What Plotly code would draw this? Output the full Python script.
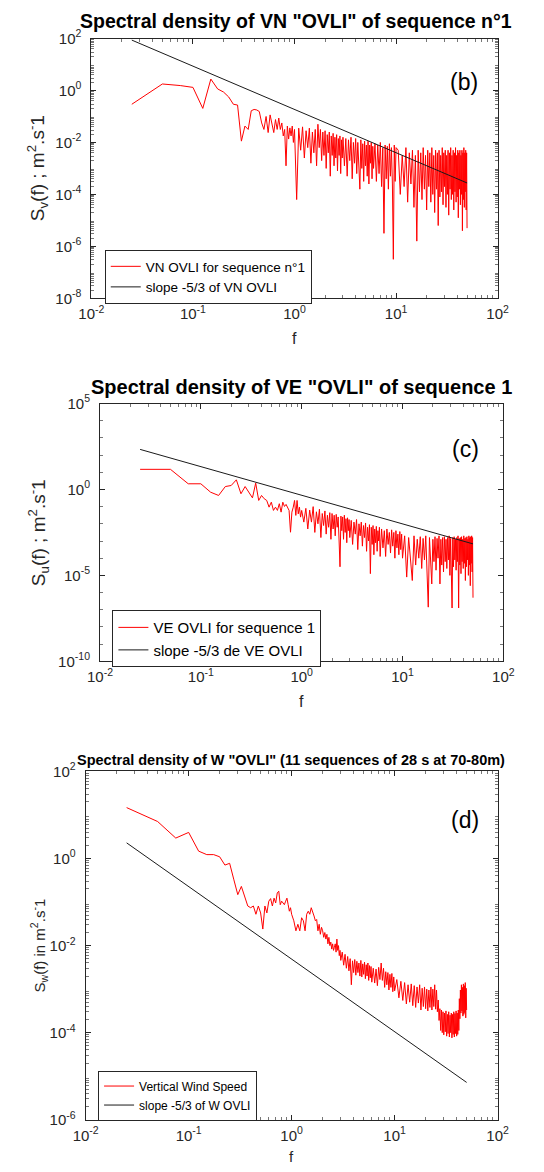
import numpy as np
import plotly.graph_objects as go

# ---------------- data ----------------
freq = [0.025, 0.05, 0.075, 0.1, 0.125, 0.15, 0.175, 0.2, 0.225, 0.25,
        0.275, 0.3, 0.325, 0.35, 0.375, 0.4, 0.425, 0.45, 0.475, 0.5,
        0.525, 0.55, 0.575, 0.6, 0.625, 0.65, 0.675, 0.7, 0.725, 0.75,
        0.775, 0.8, 0.825, 0.85, 0.875, 0.9, 0.925, 0.95, 0.975, 1.0,
        1.05, 1.1, 1.15, 1.2, 1.25, 1.3, 1.35, 1.4, 1.45, 1.5,
        1.55, 1.6, 1.65, 1.7, 1.75, 1.8, 1.85, 1.9, 1.95, 2.0,
        2.05, 2.1, 2.15, 2.2, 2.25, 2.3, 2.35, 2.4, 2.45, 2.5,
        2.55, 2.6, 2.65, 2.7, 2.75, 2.8, 2.85, 2.9, 2.95, 3.0,
        3.1, 3.2, 3.3, 3.4, 3.5, 3.6, 3.7, 3.8, 3.9, 4.0,
        4.1, 4.2, 4.3, 4.4, 4.5, 4.6, 4.7, 4.8, 4.9, 5.0,
        5.1, 5.2, 5.3, 5.4, 5.5, 5.6, 5.7, 5.8, 5.9, 6.0,
        6.2, 6.4, 6.6, 6.8, 7.0, 7.2, 7.4, 7.6, 7.8, 8.0,
        8.2, 8.4, 8.6, 8.8, 9.0, 9.2, 9.4, 9.6, 9.8, 10.0,
        10.5, 11.0, 11.5, 12.0, 12.5, 13.0, 13.5, 14.0, 14.5, 15.0,
        15.5, 16.0, 16.5, 17.0, 17.5, 18.0, 18.5, 19.0, 19.5, 20.0,
        20.5, 21.0, 21.5, 22.0, 22.5, 23.0, 23.5, 24.0, 24.5, 25.0,
        25.5, 26.0, 26.5, 27.0, 27.5, 28.0, 28.5, 29.0, 29.5, 30.0,
        30.5, 31.0, 31.5, 32.0, 32.5, 33.0, 33.5, 34.0, 34.5, 35.0,
        35.5, 36.0, 36.5, 37.0, 37.5, 38.0, 38.5, 39.0, 39.5, 40.0,
        40.5, 41.0, 41.5, 42.0, 42.5, 43.0, 43.5, 44.0, 44.5, 45.0,
        45.5, 46.0, 46.5, 47.0, 47.5, 48.0, 48.5, 49.0, 49.5, 50.0]

# log10 of spectral density, VN (panel b)
log_vn = [-0.53, 0.25, 0.19, 0.12, -0.69, 0.44, 0.06, -0.06, -0.25, -0.53,
          -0.56, -1.95, -1.37, -1.5, -0.78, -0.73, -0.75, -0.81, -1.25, -1.5,
          -1.0, -1.62, -0.94, -1.37, -1.62, -1.12, -1.5, -1.06, -1.5, -1.25,
          -1.75, -1.5, -2.9, -1.37, -1.87, -1.44, -1.75, -1.37, -2.0, -1.5,
          -4.2, -1.45, -2.3, -1.4, -2.6, -1.55, -2.2, -1.45, -2.8, -1.6,
          -2.4, -1.5, -2.9, -1.3, -2.2, -1.5, -2.7, -1.6, -2.5, -1.55,
          -3.0, -1.7, -2.4, -1.6, -3.3, -1.75, -2.5, -1.65, -2.9, -1.8,
          -2.6, -1.7, -3.1, -1.85, -2.5, -1.75, -3.2, -1.9, -2.6, -1.8,
          -2.9, -1.85, -3.3, -1.9, -2.7, -1.8, -3.4, -2.0, -2.8, -1.85,
          -3.2, -2.0, -2.7, -3.8, -1.9, -3.0, -2.05, -3.5, -1.95, -2.9,
          -2.1, -3.3, -1.95, -3.6, -2.1, -2.8, -2.0, -3.4, -2.15, -3.0,
          -2.05, -3.5, -2.1, -3.2, -2.0, -3.7, -2.2, -5.5, -2.1, -3.4,
          -2.15, -3.8, -2.05, -3.3, -2.2, -3.6, -6.5, -2.1, -3.5, -2.2,
          -2.3, -4.0, -2.5, -3.7, -2.2, -4.3, -2.4, -3.6, -2.3, -4.5,
          -2.5, -5.8, -2.3, -3.9, -2.4, -4.2, -2.2, -3.8, -2.5, -4.6,
          -2.3, -3.7, -2.4, -4.3, -2.2, -4.0, -2.5, -4.7, -2.3, -3.8,
          -2.4, -5.2, -2.3, -4.1, -2.5, -3.9, -2.2, -4.4, -2.4, -3.7,
          -2.3, -4.5, -2.5, -4.0, -2.3, -4.8, -2.4, -3.8, -2.2, -4.2,
          -2.5, -4.0, -2.3, -4.6, -2.4, -3.9, -2.2, -4.3, -2.5, -4.1,
          -2.3, -4.9, -2.4, -3.8, -2.3, -4.4, -2.5, -4.0, -2.3, -5.4,
          -2.4, -4.2, -2.2, -4.5, -2.4, -3.9, -2.3, -4.6, -2.4, -5.3]

# log10 of spectral density, VE (panel c)
log_ve = [1.17, 1.17, 0.33, 0.33, -0.16, -0.35, 0.17, 0.23, 0.56, -0.25,
          0.17, -0.16, -0.49, 0.37, -0.64, -0.35, -0.54, -0.64, -1.03, -0.74,
          -1.22, -1.03, -1.22, -0.83, -1.32, -0.74, -0.99, -0.87, -1.03, -1.22,
          -2.49, -1.32, -1.03, -0.64, -1.51, -0.64, -1.42, -1.03, -1.61, -1.22,
          -1.9, -1.1, -2.3, -1.2, -1.9, -1.0, -2.5, -1.3, -2.0, -1.15,
          -2.8, -1.4, -2.1, -1.25, -2.6, -1.5, -2.2, -1.35, -2.9, -1.4,
          -2.3, -1.5, -2.7, -1.45, -2.2, -1.6, -3.0, -4.5, -1.55, -2.4,
          -1.6, -2.9, -1.5, -2.5, -1.7, -3.1, -1.65, -2.4, -1.75, -2.8,
          -1.8, -3.2, -1.9, -2.6, -1.75, -3.5, -2.0, -2.7, -1.9, -3.3,
          -2.1, -2.8, -1.95, -3.6, -2.2, -3.0, -2.05, -4.9, -2.2, -3.2,
          -2.1, -3.8, -2.3, -3.1, -2.15, -3.6, -2.4, -3.0, -2.2, -3.9,
          -2.3, -3.4, -2.4, -3.9, -2.3, -3.2, -2.5, -3.7, -2.35, -3.3,
          -2.5, -4.0, -2.4, -3.4, -2.6, -3.8, -2.45, -3.5, -2.6, -4.0,
          -2.7, -5.1, -2.8, -4.2, -5.3, -2.7, -4.4, -2.9, -4.0, -2.75,
          -4.6, -2.85, -4.1, -2.7, -4.5, -6.85, -2.8, -4.3, -5.5, -2.9,
          -4.2, -2.75, -4.7, -2.85, -4.0, -2.7, -5.5, -2.9, -4.4, -2.8,
          -4.8, -2.75, -4.2, -2.9, -4.6, -2.8, -4.1, -2.7, -5.0, -2.85,
          -4.3, -6.9, -2.8, -4.5, -2.75, -4.1, -2.9, -4.7, -2.8, -4.2,
          -2.7, -6.9, -2.85, -4.4, -2.8, -4.9, -2.75, -4.2, -2.9, -4.6,
          -2.7, -4.3, -2.85, -5.3, -2.8, -4.5, -2.75, -4.1, -2.9, -5.0,
          -2.7, -4.4, -2.8, -5.6, -2.75, -4.3, -2.7, -4.8, -2.8, -6.3]

# log10 of spectral density, W (panel d)
log_w = [1.17, 0.85, 0.47, 0.60, 0.17, 0.09, 0.09, 0.04, -0.15, -0.11,
         -0.49, -0.83, -0.64, -0.87, -1.09, -1.13, -1.09, -1.28, -1.09, -1.25,
         -1.62, -1.09, -1.25, -0.98, -0.92, -1.09, -0.91, -1.02, -0.79, -0.75,
         -1.06, -0.98, -1.02, -1.06, -0.98, -0.91, -1.06, -1.21, -1.13, -1.28,
         -1.43, -1.66, -1.51, -1.66, -1.36, -1.43, -1.66, -1.28, -1.21, -1.28,
         -1.13, -1.21, -1.32, -1.43, -1.40, -1.66, -1.51, -1.74, -1.58, -1.66,
         -1.81, -1.70, -1.85, -1.74, -1.96, -1.81, -2.00, -1.92, -2.08, -1.96,
         -2.11, -2.04, -1.96, -2.15, -1.85, -2.11, -2.00, -2.23, -2.11, -2.34,
         -2.15, -2.45, -2.20, -2.52, -2.25, -2.58, -2.30, -2.90, -2.35, -2.62,
         -2.32, -2.68, -2.36, -2.62, -2.40, -2.70, -2.34, -2.72, -2.42, -2.66,
         -2.38, -2.76, -2.44, -2.70, -2.40, -2.80, -2.46, -2.74, -2.48, -2.84,
         -2.52, -2.86, -2.54, -2.92, -2.50, -2.78, -2.40, -2.80, -2.52, -2.96,
         -2.60, -2.90, -2.62, -3.02, -2.66, -2.96, -2.64, -3.06, -2.72, -3.04,
         -2.78, -3.20, -2.82, -3.26, -2.85, -3.34, -2.90, -3.30, -2.88, -3.38,
         -2.92, -3.42, -2.95, -3.32, -2.90, -3.48, -2.98, -3.40, -2.95, -3.45,
         -3.00, -3.50, -3.02, -3.42, -2.95, -3.48, -3.00, -3.40, -2.90, -3.46,
         -3.02, -3.52, -3.25, -3.72, -3.45, -3.95, -3.48, -4.00, -3.52, -4.05,
         -3.55, -3.98, -3.50, -4.08, -3.58, -4.02, -3.52, -4.10, -3.60, -4.00,
         -3.55, -4.12, -3.58, -4.04, -3.52, -4.10, -3.56, -4.02, -3.50, -4.08,
         -3.55, -4.04, -3.48, -3.95, -3.22, -3.68, -3.02, -3.55, -2.90, -3.50,
         -2.96, -3.62, -2.88, -3.58, -2.92, -3.54, -2.85, -3.66, -2.98, -3.48]

# -5/3 reference slopes (end points)
slope_f = [0.025, 50.0]
slope_vn = [87.1, 2.75e-4]
slope_ve = [214.0, 6.8e-4]
slope_w = [2.29, 7.2e-6]

assert len(freq) == len(log_vn) == len(log_ve) == len(log_w)

# ---------------- figure ----------------
W, H = 544, 1172
FONT = "Liberation Sans, Arial, Helvetica, sans-serif"
AX = "#262626"
RED = "#ff0000"


def px(x):
    return x / W


def py(y):
    return 1 - y / H


def sup_ticks(exps):
    return [10.0 ** e for e in exps], ["10<sup>%d</sup>" % e for e in exps]


minor_x = [m * 10.0 ** d for d in range(-2, 2) for m in range(2, 10)]


def xaxis_cfg(domain, anchor):
    tv, tt = sup_ticks([-2, -1, 0, 1, 2])
    return dict(type="log", domain=domain, anchor=anchor, range=[-2, 2],
                tickmode="array", tickvals=tv, ticktext=tt,
                ticks="inside", ticklen=5, tickcolor=AX, tickwidth=1,
                showline=True, linecolor=AX, linewidth=1, mirror="allticks",
                showgrid=False, zeroline=False, ticklabelstandoff=2,
                tickfont=dict(family=FONT, size=15, color=AX),
                minor=dict(tickmode="array", tickvals=minor_x, ticks="inside",
                           ticklen=3, tickcolor="#777", showgrid=False))


def yaxis_cfg(domain, anchor, rng, exps, minor_vals):
    tv, tt = sup_ticks(exps)
    return dict(type="log", domain=domain, anchor=anchor, range=rng,
                tickmode="array", tickvals=tv, ticktext=tt,
                ticks="inside", ticklen=5, tickcolor=AX, tickwidth=1,
                showline=True, linecolor=AX, linewidth=1, mirror="allticks",
                showgrid=False, zeroline=False, ticklabelstandoff=6,
                tickfont=dict(family=FONT, size=15, color=AX),
                minor=dict(tickmode="array", tickvals=minor_vals, ticks="inside",
                           ticklen=3, tickcolor="#777", showgrid=False))


minor_yb = [m * 10.0 ** d for d in range(-8, 2) for m in range(2, 10)]
minor_yc = [10.0 ** d for d in range(-10, 6) if d % 5 != 0]
minor_yd = [m * 10.0 ** d for d in range(-6, 2) for m in range(2, 10)]

fig = go.Figure()

# panel (b)
fig.add_trace(go.Scatter(x=freq, y=10 ** np.array(log_vn), mode="lines",
                         line=dict(color=RED, width=1),
                         name="VN OVLI for sequence n°1",
                         xaxis="x", yaxis="y", legend="legend"))
fig.add_trace(go.Scatter(x=slope_f, y=slope_vn, mode="lines",
                         line=dict(color="#1a1a1a", width=1),
                         name="slope -5/3 of VN OVLI",
                         xaxis="x", yaxis="y", legend="legend"))
# panel (c)
fig.add_trace(go.Scatter(x=freq, y=10 ** np.array(log_ve), mode="lines",
                         line=dict(color=RED, width=1),
                         name="VE OVLI for sequence 1",
                         xaxis="x2", yaxis="y2", legend="legend2"))
fig.add_trace(go.Scatter(x=slope_f, y=slope_ve, mode="lines",
                         line=dict(color="#1a1a1a", width=1),
                         name="slope -5/3 de VE OVLI",
                         xaxis="x2", yaxis="y2", legend="legend2"))
# panel (d)
fig.add_trace(go.Scatter(x=freq, y=10 ** np.array(log_w), mode="lines",
                         line=dict(color=RED, width=1),
                         name="Vertical Wind Speed",
                         xaxis="x3", yaxis="y3", legend="legend3"))
fig.add_trace(go.Scatter(x=slope_f, y=slope_w, mode="lines",
                         line=dict(color="#1a1a1a", width=1),
                         name="slope -5/3 of W OVLI",
                         xaxis="x3", yaxis="y3", legend="legend3"))

dom_b_x = [px(82), px(507)]
dom_b_y = [py(292), py(28)]
dom_c_x = [px(91), px(513)]
dom_c_y = [py(661), py(399)]
dom_d_x = [px(76), px(507)]
dom_d_y = [py(1127), py(773)]


def legend_cfg(x, y, size):
    return dict(x=px(x), y=py(y), xanchor="left", yanchor="top",
                bgcolor="white", bordercolor=AX, borderwidth=1,
                font=dict(family=FONT, size=size, color="black"),
                tracegroupgap=0, itemwidth=30)


ann = []


def text(x, y, s, size, bold=False, angle=0, color="black"):
    ann.append(dict(x=px(x), y=py(y), xref="paper", yref="paper",
                    text=("<b>%s</b>" % s) if bold else s, showarrow=False,
                    textangle=angle, xanchor="center", yanchor="middle",
                    font=dict(family=FONT, size=size, color=color)))


# titles
text(296, 10, 'Spectral density of VN "OVLI" of sequence n°1', 19.5, bold=True)
text(302, 382, 'Spectral density of VE "OVLI" of sequence 1', 20, bold=True)
text(291, 761, 'Spectral density of W "OVLI" (11 sequences of 28 s at 70-80m)', 14.5, bold=True)
# x labels
text(294, 333, "f", 16, color=AX)
text(302, 702, "f", 16, color=AX)
text(291, 1164, "f", 15, color=AX)
# y labels
text(26, 160, "S<sub>v</sub>(f) ; m<sup>2</sup>.s<sup>-</sup>1", 19, angle=-90, color=AX)
text(27, 530, "S<sub>u</sub>(f) ; m<sup>2</sup>.s<sup>-</sup>1", 19, angle=-90, color=AX)
text(27, 950, "S<sub>w</sub>(f) in m<sup>2</sup>.s<sup>-</sup>1", 15, angle=-90, color=AX)
# panel tags
text(472, 72, "(b)", 23)
text(473, 445, "(c)", 23)
text(473, 822, "(d)", 23)

fig.update_layout(
    width=W, height=H, autosize=False,
    margin=dict(l=0, r=0, t=0, b=0),
    paper_bgcolor="white", plot_bgcolor="white",
    showlegend=True,
    xaxis=xaxis_cfg(dom_b_x, "y"),
    yaxis=yaxis_cfg(dom_b_y, "x", [-8, 2], [-8, -6, -4, -2, 0, 2], minor_yb),
    xaxis2=xaxis_cfg(dom_c_x, "y2"),
    yaxis2=yaxis_cfg(dom_c_y, "x2", [-10, 5], [-10, -5, 0, 5], minor_yc),
    xaxis3=xaxis_cfg(dom_d_x, "y3"),
    yaxis3=yaxis_cfg(dom_d_y, "x3", [-6, 2], [-6, -4, -2, 0, 2], minor_yd),
    legend=legend_cfg(96, 243, 13.5),
    legend2=legend_cfg(104, 609, 15),
    legend3=legend_cfg(89, 1077, 12),
    annotations=ann,
)

fig.write_html(
    "out.html",
    config={"displayModeBar": False},
    post_script=("document.body.style.margin='0';"
                 "document.body.style.padding='0';"
                 "document.documentElement.style.overflow='hidden';"),
)
